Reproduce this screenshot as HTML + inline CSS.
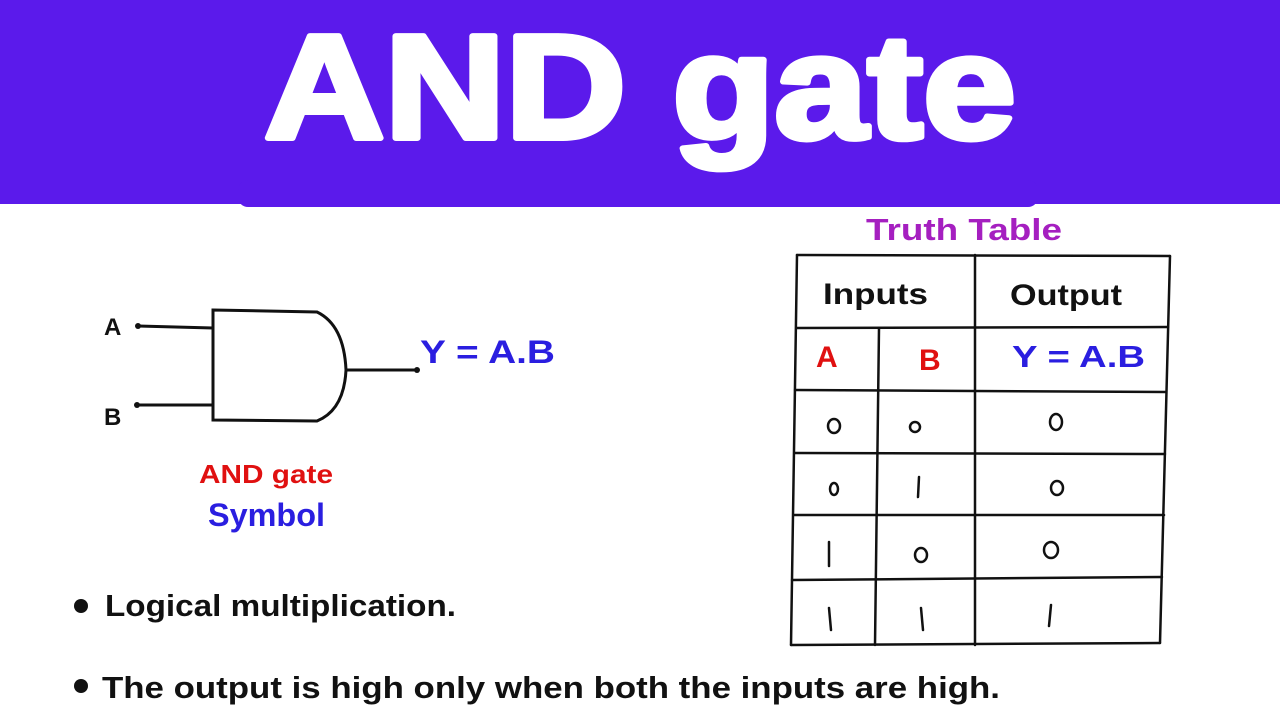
<!DOCTYPE html>
<html><head><meta charset="utf-8"><style>
html,body{margin:0;padding:0;background:#fff;width:1280px;height:720px;overflow:hidden}
svg{display:block}
text{font-family:"Liberation Sans","DejaVu Sans",sans-serif;font-weight:bold}
</style></head><body>
<svg width="1280" height="720" viewBox="0 0 1280 720" xmlns="http://www.w3.org/2000/svg">
<rect x="0" y="0" width="1280" height="204" fill="#5b1aeb"/>
<rect x="238" y="180" width="800" height="27" rx="10" fill="#5b1aeb"/>
<text x="264" y="138" font-size="148" fill="#fff" stroke="#fff" stroke-width="6" stroke-linejoin="round" textLength="752" lengthAdjust="spacingAndGlyphs">AND gate</text>

<!-- gate -->
<g stroke="#111" stroke-width="3" fill="none" stroke-linecap="round">
<path d="M213,310 L317,312 Q344,325 346,370 Q344,410 317,421 L213,420 Z"/>
<line x1="138" y1="326" x2="213" y2="328"/>
<line x1="137" y1="405" x2="213" y2="405"/>
<line x1="346" y1="370" x2="417" y2="370"/>
</g>
<circle cx="138" cy="326" r="3" fill="#111"/>
<circle cx="137" cy="405" r="3" fill="#111"/>
<circle cx="417" cy="370" r="3" fill="#111"/>
<text x="104" y="335" font-size="24" fill="#111">A</text>
<text x="104" y="425" font-size="24" fill="#111">B</text>
<text x="420" y="363" font-size="32" fill="#2a1ee0" textLength="135" lengthAdjust="spacingAndGlyphs">Y = A.B</text>
<text x="199" y="483" font-size="26" fill="#e01010" textLength="134" lengthAdjust="spacingAndGlyphs">AND gate</text>
<text x="208" y="526" font-size="32" fill="#2a1ee0" textLength="117" lengthAdjust="spacingAndGlyphs">Symbol</text>

<!-- table -->
<text x="866" y="240" font-size="31" fill="#a51fc0" textLength="196" lengthAdjust="spacingAndGlyphs">Truth Table</text>
<g stroke="#111" stroke-width="2.5" stroke-linecap="round">
<line x1="797" y1="255" x2="1170" y2="256"/>
<line x1="797" y1="328" x2="1168" y2="327"/>
<line x1="795" y1="390" x2="1166" y2="392"/>
<line x1="795" y1="453" x2="1165" y2="454"/>
<line x1="794" y1="515" x2="1164" y2="515"/>
<line x1="792" y1="580" x2="1162" y2="577"/>
<line x1="791" y1="645" x2="1160" y2="643"/>
<line x1="797" y1="255" x2="791" y2="645"/>
<line x1="879" y1="328" x2="875" y2="645"/>
<line x1="975" y1="255" x2="975" y2="645"/>
<line x1="1170" y1="256" x2="1160" y2="643"/>
</g>
<text x="823" y="304" font-size="30" fill="#111" textLength="105" lengthAdjust="spacingAndGlyphs">Inputs</text>
<text x="1010" y="305" font-size="30" fill="#111" textLength="112" lengthAdjust="spacingAndGlyphs">Output</text>
<text x="816" y="367" font-size="30" fill="#e01010">A</text>
<text x="919" y="370" font-size="30" fill="#e01010">B</text>
<text x="1012" y="367" font-size="31" fill="#2a1ee0" textLength="133" lengthAdjust="spacingAndGlyphs">Y = A.B</text>
<g stroke="#111" stroke-width="2.5" fill="none" stroke-linecap="round">
<ellipse cx="834" cy="426" rx="6" ry="7"/>
<ellipse cx="915" cy="427" rx="5" ry="5"/>
<ellipse cx="1056" cy="422" rx="6" ry="8"/>
<ellipse cx="834" cy="489" rx="4" ry="6"/>
<line x1="919" y1="477" x2="918" y2="497"/>
<ellipse cx="1057" cy="488" rx="6" ry="7"/>
<line x1="829" y1="542" x2="829" y2="566"/>
<ellipse cx="921" cy="555" rx="6" ry="7"/>
<ellipse cx="1051" cy="550" rx="7" ry="8"/>
<line x1="829" y1="608" x2="831" y2="630"/>
<line x1="921" y1="608" x2="923" y2="630"/>
<line x1="1051" y1="605" x2="1049" y2="626"/>
</g>

<!-- bullets -->
<circle cx="81" cy="606" r="7" fill="#111"/>
<text x="105" y="616" font-size="31" fill="#111" textLength="351" lengthAdjust="spacingAndGlyphs">Logical multiplication.</text>
<circle cx="81" cy="686" r="7" fill="#111"/>
<text x="102" y="698" font-size="31" fill="#111" textLength="898" lengthAdjust="spacingAndGlyphs">The output is high only when both the inputs are high.</text>
</svg>
</body></html>
